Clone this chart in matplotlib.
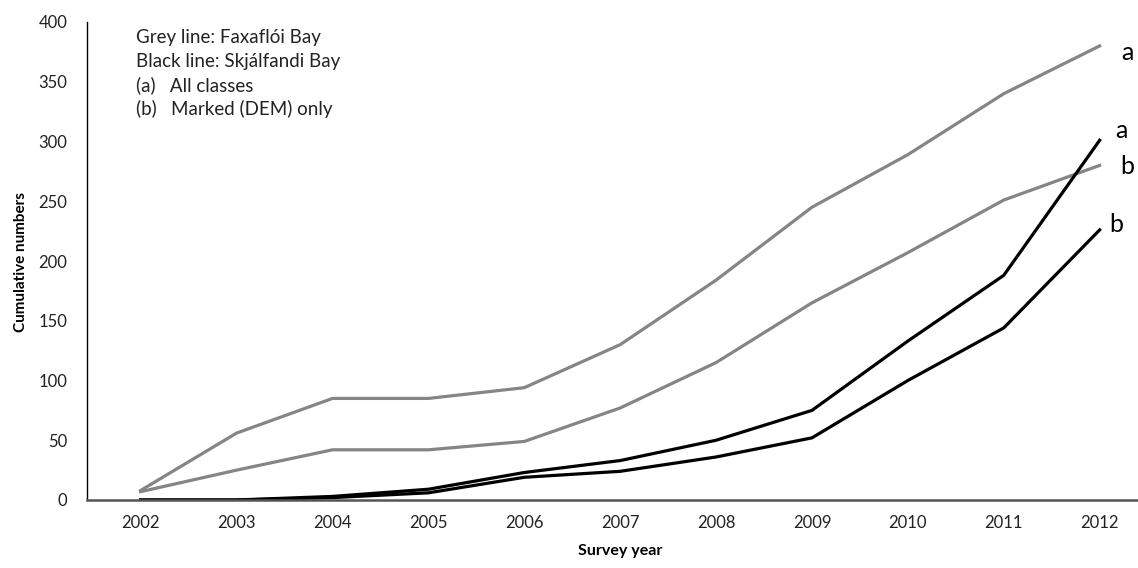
import matplotlib
matplotlib.use("Agg")
import matplotlib.pyplot as plt

plt.rcParams['font.family'] = ['Lato', 'DejaVu Sans']

years = [2002, 2003, 2004, 2005, 2006, 2007, 2008, 2009, 2010, 2011, 2012]
faxa_all = [8, 56, 85, 85, 94, 130, 184, 245, 289, 340, 380]
faxa_dem = [7, 25, 42, 42, 49, 77, 115, 165, 207, 251, 280]
skja_all = [0, 0, 3, 9, 23, 33, 50, 75, 133, 188, 301]
skja_dem = [0, 0, 2, 6, 19, 24, 36, 52, 100, 144, 226]

legend_lines = ["Grey line: Faxaflói Bay", "Black line: Skjálfandi Bay",
                "(a)   All classes", "(b)   Marked (DEM) only"]

fig = plt.figure(figsize=(11.38, 5.68), dpi=100)
ax = fig.add_axes([87/1138, 68/568, 1 - 87/1138, 1 - 68/568 - 22/568])

grey = '#858585'
ax.plot(years, faxa_all, color=grey, lw=2.3, solid_joinstyle='round')
ax.plot(years, faxa_dem, color=grey, lw=2.3, solid_joinstyle='round')
ax.plot(years, skja_all, color='black', lw=2.3, solid_joinstyle='round')
ax.plot(years, skja_dem, color='black', lw=2.3, solid_joinstyle='round')

# end labels
ends = [(faxa_all, 'a', (20, -5)), (skja_all, 'a', (16, 7)),
        (faxa_dem, 'b', (20, -1)), (skja_dem, 'b', (12, 4))]
for series, lab, off in ends:
    ax.annotate(lab, (years[-1], series[-1]), xytext=off, textcoords='offset points',
                ha='center', va='center', fontsize=18, annotation_clip=False)

ax.set_xlim(2001.44, 2012.4)
ax.set_ylim(0, 400)
ax.set_xticks(years)
ax.set_yticks(range(0, 401, 50))
ax.tick_params(axis='both', length=0, labelsize=12, colors='#222222')
ax.tick_params(axis='y', pad=14)
ax.tick_params(axis='x', pad=11)

for s in ['top', 'right']:
    ax.spines[s].set_visible(False)
ax.spines['left'].set_linewidth(1.0)
ax.spines['bottom'].set_color('#555555')
ax.spines['bottom'].set_linewidth(1.8)

ax.set_xlabel("Survey year", fontsize=11.5, fontweight='bold')
ax.set_ylabel("Cumulative numbers", fontsize=11, fontweight='bold')
ax.xaxis.set_label_coords((620 - 87) / 1051, -(544 - 500) / 478)
ax.yaxis.set_label_coords(-(87 - 28) / 1051, (500 - 262) / 478)

for i, t in enumerate(legend_lines):
    fig.text(136/1138, 1 - (37 + 24*i)/568, t, fontsize=13.5, va='center', ha='left', color='#222222')

fig.savefig("out.png", dpi=100)
